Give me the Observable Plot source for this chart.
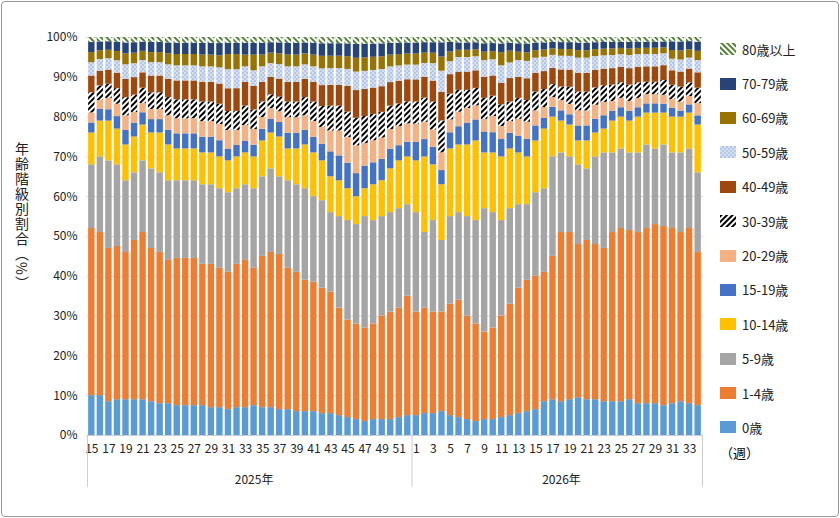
<!DOCTYPE html>
<html><head><meta charset="utf-8">
<script src="https://cdn.jsdelivr.net/npm/d3@7"></script>
<script src="https://cdn.jsdelivr.net/npm/@observablehq/plot@0.6"></script>
<style>
body{margin:0;background:#fff;font-family:"Noto Sans CJK JP",sans-serif}
#wrap{position:relative;width:836px;height:514px;border:1px solid #999;border-radius:4px;margin:1px}
#chart{position:absolute;left:0;top:0}
#ylab{position:absolute;left:10px;top:140px;writing-mode:vertical-rl;font-size:14px;letter-spacing:1px;color:#222}
#legend{position:absolute;left:718px;top:30px;font-size:13px;color:#222}
.li{display:flex;align-items:center;height:34.4px}
.li svg{margin-right:6px}
#wk{position:absolute;left:718px;top:441px;font-size:13px}
</style></head><body>
<div id="wrap"><div id="chart"></div><div id="ylab">年齢階級別割合（%）</div><div id="legend"></div><div id="wk">（週）</div></div>
<script>
const weeks2025 = [15,16,17,18,19,20,21,22,23,24,25,26,27,28,29,30,31,32,33,34,35,36,37,38,39,40,41,42,43,44,45,46,47,48,49,50,51,52];
const weeks2026 = [1,2,3,4,5,6,7,8,9,10,11,12,13,14,15,16,17,18,19,20,21,22,23,24,25,26,27,28,29,30,31,32,33,34];
const groups = ["0歳","1-4歳","5-9歳","10-14歳","15-19歳","20-29歳","30-39歳","40-49歳","50-59歳","60-69歳","70-79歳","80歳以上"];
// cumulative tops (%)
const top0 = [10,10,8.5,9,9,9,9,8.5,8,8, 7.5,7.5,7.5,7.5,7,7,6.5,7,7,7.5, 7,7,6.5,6.5,6,6,6,5.5,5.5,5, 4.5,4,3.5,4,4,4,4.5,5,
  5,5.5,5.5,6,5,4.5,4,3.5,4,4, 4.5,5,5.5,6,6.5,8.5,9,8.5,9,9.5, 9,9,8.5,8.5,8.5,9,8,8,8,7.5, 8,8.5,8,7.5];
const top1 = [52,51,47,47.5,46,49,51,47,46,44, 44.5,44.5,44.5,43,43,42,41,43,44,42, 45,46,45.5,42,41,39,38.5,37,36,32, 29,28,27,28,30,31,32,35,
  31,32,31,31,33,34,30,28,26,27, 30,33,37,39,40,41,45,51,51,48, 49,48,47,51,52,51.5,51,52,53,52.5, 52,51,52,46];
const top2 = [68,70,69,68,64,66,69,67,66,64, 64,64,64,63,63,62,61,62,63,62, 65,67,65,64,63,62,60,59,56,55, 54,53,55,54,55,56,57,58,
  56,51,54,49,55,56,55,54,57,56, 54,57,58,58,61,62,70,71,70,68, 67,70,71,71,72,71,71,73,72,73, 71,71,72,66];
const top3 = [76,79,79,77,73,75,78,76,76,73, 72,72,72,71,71,70,69,70,71,70, 74,76,75,72,72,73,71,69,65,64, 62,60,62,63,64,67,69,70,
  69,70,68,63,72,73,73,74,71,71, 70,72,71,70,74,77,80,79,78,74, 74,76,77,79,80,79,80,81,81,81, 80,80,81,78];
// relative shares of the smaller groups (scaled to fill the rest up to 100%)
const s1519 = [3,4,4,4,4,4,4,4,4,4, 4,4,4,4,4,4,3,3,3,3, 3,4,4,4,4,4,4,4,6,6, 6,5,5,5,5,5,4,4,
  5,5,5,4,5,5,6,6,5,5, 4,4,4,4,4,3,3,3,3,4, 4,4,4,3,3,3,3,3,3,3, 3,2,3,3];
const s2029 = [3,3,4,4,4,3,3,3,3,4, 4,4,4,4,4,4,5,4,4,4, 3,3,3,4,4,4,4,4,5,6, 6,6,5,5,5,5,5,5,
  5,5,5,5,4,4,4,4,3,4, 3,3,4,4,4,3,3,3,3,4, 4,4,4,3,3,3,3,3,3,3, 3,3,3,4];
const s3039 = [6,5,5,5,5,5,5,5,5,5, 5,5,5,5,5,5,5,5,5,5, 4,4,4,4,4,5,5,5,6,6, 6,6,6,6,6,6,6,6,
  6,7,8,9,8,6,5,5,5,5, 5,5,5,5,5,5,4,4,5,5, 5,5,5,5,5,5,5,4,4,5, 5,5,5,5];
const s4049 = [5,5,5,5,5,5,5,5,5,5, 5,5,5,5,5,5,6,6,6,6, 5,5,5,5,5,5,5,5,5,5, 6,6,6,6,6,6,6,6,
  6,6,6,8,6,5,5,5,5,5, 5,6,5,5,5,5,5,5,5,5, 5,5,5,5,5,5,5,5,5,5, 5,5,5,5];
const s5059 = [4,4,4,4,4,4,4,4,4,4, 4,4,4,4,4,4,5,5,4,4, 4,4,4,4,4,4,4,4,4,4, 4,4,4,4,4,4,4,4,
  4,4,5,6,4,4,4,4,4,4, 4,4,4,4,4,4,4,4,4,4, 4,4,4,4,4,4,4,4,4,4, 4,4,4,4];
const s6069 = [3,3,3,3,3,3,3,3,3,3, 3,3,3,3,3,3,4,4,3,4, 3,3,3,3,3,3,3,3,3,3, 3,3,3,3,3,3,3,3,
  3,3,3,4,3,2,2,2,2,2, 3,3,2,2,2,2,2,2,2,2, 2,2,2,2,2,2,2,2,2,2, 3,3,3,3];
const s7079 = [3,3,3,3,3,3,3,3,3,3, 3,3,3,3,3,3,3,3,3,3, 3,3,3,3,3,3,3,3,3,3, 3,3,3,3,3,3,3,3,
  3,3,3,4,3,2,2,2,2,2, 2,2,2,2,2,2,2,2,2,2, 2,2,2,2,2,2,2,2,2,2, 3,3,3,3];
const s80 = [1.5,1.5,1.5,1.5,1.5,1.5,1.5,1.5,1.5,1.5, 1.5,1.5,1.5,1.5,1.5,1.5,1.5,1.5,1.5,1.5, 1.5,1.5,1.5,1.5,1.5,1.5,1.5,1.5,1.5,1.5, 1.5,1.5,1.5,1.5,1.5,1.5,1.5,1.5,
  1.5,1.5,1.5,1.5,1.5,1.5,1.5,1.5,1.5,1.5, 1.5,1.5,1.5,1.5,1.5,1.5,1.5,1.5,1.5,1.5, 1.5,1.5,1.5,1.5,1.5,1.5,1.5,1.5,1.5,1.5, 1.5,1.5,1.5,1.5];
const yTicks = [0,10,20,30,40,50,60,70,80,90,100];

const keys = [...weeks2025.map(w=>"2025-"+w), ...weeks2026.map(w=>"2026-"+w)];
const wk = [...weeks2025, ...weeks2026];
const data = [];
keys.forEach((k,i)=>{
  const rest = [s1519,s2029,s3039,s4049,s5059,s6069,s7079,s80].map(a=>a[i]);
  const f = (100 - top3[i]) / d3.sum(rest);
  const v = [top0[i], top1[i]-top0[i], top2[i]-top1[i], top3[i]-top2[i], ...rest.map(r=>r*f)];
  v.forEach((val,j)=>data.push({k, g:groups[j], v: val}));
});
const fills = ["#5B9BD5","#ED7D31","#A5A5A5","#FFC000","#4472C4","#F4B183","url(#p3039)","#9E480E","url(#p5059)","#997300","#264478","url(#p80)"];
const defs = `<defs>
<pattern id="p3039" patternUnits="userSpaceOnUse" width="4" height="4" patternTransform="rotate(45)"><rect width="4" height="4" fill="#fff"/><rect width="2" height="4" fill="#000"/></pattern>
<pattern id="p5059" patternUnits="userSpaceOnUse" width="4" height="4"><rect width="4" height="4" fill="#B4C7E7"/><circle cx="1" cy="1" r="0.8" fill="#fff"/><circle cx="3" cy="3" r="0.8" fill="#fff"/></pattern>
<pattern id="p80" patternUnits="userSpaceOnUse" width="4" height="4" patternTransform="rotate(-45)"><rect width="4" height="4" fill="#fff"/><rect width="2" height="4" fill="#548235"/></pattern></defs>`;

const chart = Plot.plot({
  width: 705, height: 514,
  marginLeft: 84, marginRight: 4, marginTop: 35, marginBottom: 81,
  style:{fontFamily:"'Noto Sans CJK JP',sans-serif", fontSize:"12px", color:"#222"},
  x:{domain:keys, padding:0.25, label:null, tickSize:0, tickFormat:(d,i)=> (wk[i]%2===1? String(wk[i]) : "")},
  y:{domain:[0,100], ticks:yTicks, tickFormat:d=>d+"%", label:null, tickSize:0, grid:true},
  color:{domain:groups, range:fills},
  marks:[
    Plot.barY(data,{x:"k", y:"v", fill:"g", order:groups}),
    Plot.ruleY([0],{stroke:"#ccc"}),
    Plot.ruleX(["2025-15","2026-1"],{y1:0,y2:-13,dx:-4.3,stroke:"#ccc",clip:false}),
    Plot.ruleX(["2026-34"],{y1:0,y2:-13,dx:4.3,stroke:"#ccc"}),
    Plot.text(["2025-34"],{x:d=>d, y:0, dy:45, text:()=>"2025年", fontSize:12}),
    Plot.text(["2026-18"],{x:d=>d, y:0, dy:45, text:()=>"2026年", fontSize:12})
  ]
});
chart.insertAdjacentHTML("afterbegin", defs);
d3.select(chart).selectAll("g[aria-label='y-grid'] line").attr("stroke","#d9d9d9").attr("stroke-opacity",1);
d3.select(chart).selectAll("g[aria-label='bar'] rect").attr("stroke","none");
document.getElementById("chart").appendChild(chart);

const leg = document.getElementById("legend");
groups.slice().reverse().forEach((g,i)=>{
  const f = fills[groups.length-1-i];
  leg.insertAdjacentHTML("beforeend", `<div class="li"><svg width="16" height="12">${defs}<rect width="16" height="12" fill="${f}"/></svg>${g}</div>`);
});
</script></body></html>
